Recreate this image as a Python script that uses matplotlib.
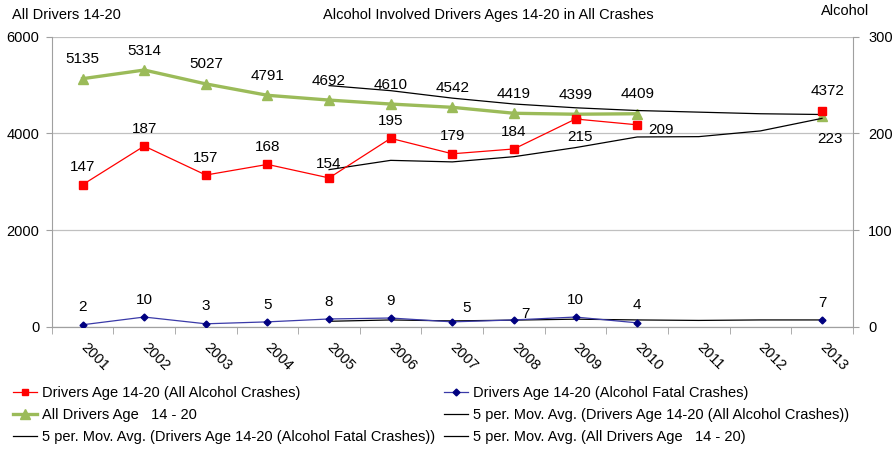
import numpy as np
import pandas as pd
import matplotlib.pyplot as plt
from matplotlib.lines import Line2D

plt.rcParams['font.family'] = ['Liberation Sans', 'DejaVu Sans']

# ── Data ──────────────────────────────────────────────────────────────────────
years = ["2001", "2002", "2003", "2004", "2005", "2006", "2007",
         "2008", "2009", "2010", "2011", "2012", "2013"]
all_drivers = [5135, 5314, 5027, 4791, 4692, 4610, 4542, 4419, 4399, 4409,
               np.nan, np.nan, 4372]
alcohol_crashes = [147, 187, 157, 168, 154, 195, 179, 184, 215, 209,
                   np.nan, np.nan, 223]
fatal_crashes = [2, 10, 3, 5, 8, 9, 5, 7, 10, 4, np.nan, np.nan, 7]

LBL_GREEN = "All Drivers Age   14 - 20"
LBL_RED = "Drivers Age 14-20 (All Alcohol Crashes)"
LBL_BLUE = "Drivers Age 14-20 (Alcohol Fatal Crashes)"

GREEN = "#9bbb59"
RED = "#ff0000"
NAVY = "#000080"
BLUE_LINE = "#3a3aa8"
FS = 10.5


def moving_avg(values, n=5):
    """Excel-style trendline: trailing mean over the window, skipping gaps."""
    s = pd.Series(values, dtype=float).rolling(n, min_periods=1).mean()
    s.iloc[:n - 1] = np.nan
    return s.values


x = np.arange(len(years))

fig = plt.figure(figsize=(8.93, 4.5), dpi=100)
ax = fig.add_axes([0.058, 0.274, 0.897, 0.644])
ax2 = ax.twinx()

# left axis: all drivers
ax.plot(x, all_drivers, color=GREEN, lw=2.4, marker="^", ms=7, zorder=3)
ax.plot(x, moving_avg(all_drivers), color="black", lw=0.9, zorder=4)

# right axis: alcohol
ax2.plot(x, alcohol_crashes, color=RED, lw=0.9, marker="s", ms=6,
         markeredgecolor=RED, zorder=3)
ax2.plot(x, fatal_crashes, color=BLUE_LINE, lw=0.9, marker="D", ms=3.5,
         markerfacecolor=NAVY, markeredgecolor=NAVY, zorder=3)
ax2.plot(x, moving_avg(alcohol_crashes), color="black", lw=0.9, zorder=2)
ax2.plot(x, moving_avg(fatal_crashes), color="black", lw=0.9, zorder=2)

ax.set_xlim(-0.5, len(years) - 0.5)
ax.set_ylim(0, 6000)
ax2.set_ylim(0, 300)
ax.set_yticks([0, 2000, 4000, 6000])
ax2.set_yticks([0, 100, 200, 300])
ax.grid(axis="y", color="#c0c0c0", lw=0.9)
ax.set_axisbelow(True)

ax.set_xticks(x)
ax.set_xticklabels(years, rotation=-45, ha="left", va="center",
                   rotation_mode="anchor", fontsize=FS)
ax.set_xticks(np.arange(-0.5, len(years), 1.0), minor=True)
ax.tick_params(axis="x", which="major", length=0, pad=13)
ax.tick_params(axis="x", which="minor", length=5, color="#a0a0a0")
ax.tick_params(axis="y", labelsize=FS, length=4, color="#a0a0a0", pad=5)
ax2.tick_params(axis="y", labelsize=FS, length=4, color="#a0a0a0", pad=7)

for a in (ax, ax2):
    a.spines["top"].set_visible(False)
    for sp in ("left", "right", "bottom"):
        a.spines[sp].set_color("#a0a0a0")
ax.spines["right"].set_visible(False)
ax2.spines["left"].set_visible(False)

# ── Data labels (offsets in points) ──────────────────────────────────────────
def label(axis, xs, ys, offsets, default):
    for i, (xi, yi) in enumerate(zip(xs, ys)):
        if np.isnan(yi):
            continue
        dx, dy = offsets.get(i, default)
        axis.annotate(f"{int(yi)}", (xi, yi), xytext=(dx, dy),
                      textcoords="offset points", ha="center", va="center",
                      fontsize=11, zorder=6)

label(ax, x, all_drivers, {12: (4, 18)}, (0, 14))
label(ax2, x, alcohol_crashes, {4: (0, 10), 8: (3, -13), 9: (17, -4),
                                12: (6, -20)}, (0, 12.5))
label(ax2, x, fatal_crashes, {6: (10, 10), 7: (8, 4.5)}, (0, 12.5))

# ── Titles ────────────────────────────────────────────────────────────────────
fig.text(0.013, 0.966, "All Drivers 14-20", fontsize=FS, va="center")
fig.text(0.547, 0.966, "Alcohol Involved Drivers Ages 14-20 in All Crashes",
         fontsize=FS, ha="center", va="center")
fig.text(0.946, 0.975, "Alcohol", fontsize=FS, ha="center", va="center")

# ── Legend ───────────────────────────────────────────────────────────────────
h_red = Line2D([], [], color=RED, lw=0.9, marker="s", ms=5)
h_blue = Line2D([], [], color=BLUE_LINE, lw=0.9, marker="D", ms=3.5,
                markerfacecolor=NAVY, markeredgecolor=NAVY)
h_green = Line2D([], [], color=GREEN, lw=2.4, marker="^", ms=7)
h_ma = [Line2D([], [], color="black", lw=0.9) for _ in range(3)]
handles = [h_red, h_green, h_ma[1], h_blue, h_ma[0], h_ma[2]]
labels = [LBL_RED, LBL_GREEN, f"5 per. Mov. Avg. ({LBL_BLUE})",
          LBL_BLUE, f"5 per. Mov. Avg. ({LBL_RED})",
          f"5 per. Mov. Avg. ({LBL_GREEN})"]
fig.legend(handles, labels, loc="upper left", bbox_to_anchor=(0.0146, 0.143),
           ncol=2, frameon=False, fontsize=FS, handlelength=1.65,
           handletextpad=0.34, labelspacing=0.55, columnspacing=0.6,
           borderaxespad=0, borderpad=0)

fig.savefig("out.png", dpi=100)
